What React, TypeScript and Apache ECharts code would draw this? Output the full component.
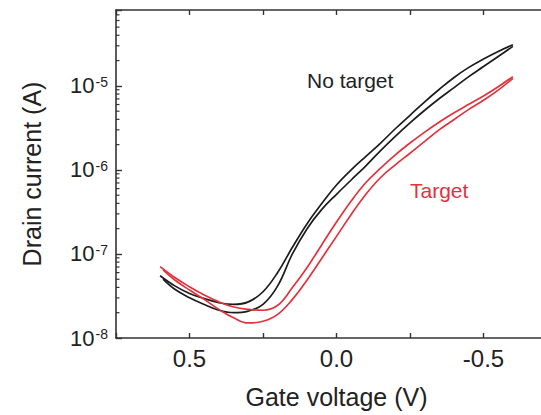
import React, { useEffect, useRef } from "react";
import * as echarts from "echarts";

// Gate voltage (V) sample positions of each sweep branch
const sweepDownV = [
  0.6, 0.55, 0.5, 0.45, 0.4, 0.35, 0.3, 0.25, 0.2, 0.15, 0.1, 0.05, 0,
  -0.05, -0.1, -0.15, -0.2, -0.25, -0.3, -0.35, -0.4, -0.45, -0.5, -0.55, -0.6,
];
const sweepUpV = [
  -0.6, -0.55, -0.5, -0.45, -0.4, -0.35, -0.3, -0.25, -0.2, -0.15, -0.1, -0.05, 0,
  0.05, 0.1, 0.15, 0.2, 0.25, 0.3, 0.35, 0.4, 0.45, 0.5, 0.55, 0.59,
];

// Drain current (A)
const noTargetDownI = [
  5.5e-8, 4.17e-8, 3.39e-8, 2.95e-8, 2.63e-8, 2.51e-8, 2.69e-8, 3.55e-8, 6.03e-8,
  1.2e-7, 2.29e-7, 3.98e-7, 6.61e-7, 1.0e-6, 1.45e-6, 2.09e-6, 3.09e-6, 4.47e-6,
  6.46e-6, 9.12e-6, 1.26e-5, 1.66e-5, 2.09e-5, 2.57e-5, 3.09e-5,
];
const noTargetUpI = [
  2.95e-5, 2.24e-5, 1.7e-5, 1.29e-5, 9.55e-6, 7.08e-6, 5.13e-6, 3.63e-6, 2.51e-6,
  1.7e-6, 1.12e-6, 7.59e-7, 5.13e-7, 3.39e-7, 2.0e-7, 1.0e-7, 4.17e-8, 2.51e-8,
  2.09e-8, 2.0e-8, 2.14e-8, 2.51e-8, 3.02e-8, 3.8e-8, 5.01e-8,
];
const targetDownI = [
  7.08e-8, 5.25e-8, 4.07e-8, 3.24e-8, 2.69e-8, 2.34e-8, 2.19e-8, 2.14e-8, 2.45e-8,
  3.98e-8, 6.92e-8, 1.29e-7, 2.4e-7, 4.27e-7, 7.08e-7, 1.05e-6, 1.51e-6, 2.09e-6,
  2.82e-6, 3.72e-6, 4.79e-6, 6.03e-6, 7.59e-6, 9.77e-6, 1.29e-5,
];
const targetUpI = [
  1.23e-5, 8.91e-6, 6.76e-6, 5.25e-6, 3.98e-6, 3.02e-6, 2.19e-6, 1.58e-6, 1.15e-6,
  8.13e-7, 5.13e-7, 2.95e-7, 1.62e-7, 8.91e-8, 4.9e-8, 2.88e-8, 1.91e-8, 1.58e-8,
  1.51e-8, 1.74e-8, 2.19e-8, 2.88e-8, 3.72e-8, 4.9e-8, 6.46e-8,
];

const xMin = -0.75;
const xMax = 0.75;
const xInterval = 0.25;
const yMin = 1e-8;
const yMax = 8e-5;
const decades = [-8, -7, -6, -5];
const minorMultipliers = [2, 3, 4, 5, 6, 7, 8, 9];

const FONT = "Liberation Sans, Arial, Helvetica, sans-serif";
const AXIS_COLOR = "#333";
const TEXT_COLOR = "#222";
const BLACK = "#1c1c1c";
const RED = "#e3323c";

const zip = (xs: number[], ys: number[]) => xs.map((x, i) => [x, ys[i]]);

export default function App() {
  const ref = useRef<HTMLDivElement>(null);
  useEffect(() => {
    if (!ref.current) return;
    const chart = echarts.init(ref.current, undefined, { renderer: "svg" });

    const minorTicks: [number, number][] = [];
    decades.forEach((d) =>
      minorMultipliers.forEach((m) => {
        const v = m * Math.pow(10, d);
        if (v < yMax) minorTicks.push([xMax, v]);
      })
    );

    const xLabel = (v: number) => {
      const r = Math.round(v * 2);
      if (Math.abs(v * 2 - r) > 1e-6) return "";
      return v.toFixed(1);
    };
    const yLabel = (v: number) => {
      const e = Math.log10(v);
      if (Math.abs(e - Math.round(e)) > 1e-6) return "";
      return `{a|10}{b|${Math.round(e)}}`;
    };

    const lineSeries = (name: string, data: number[][], color: string) => ({
      type: "line",
      name,
      data,
      showSymbol: false,
      symbol: "none",
      smooth: 0.4,
      lineStyle: { color, width: 1.7 },
      z: 3,
    });

    chart.setOption({
      animation: false,
      backgroundColor: "#fff",
      textStyle: { fontFamily: FONT },
      grid: { left: 116, top: 10, width: 443, height: 328 },
      xAxis: [
        {
          type: "value",
          min: xMin,
          max: xMax,
          interval: xInterval,
          inverse: true,
          position: "bottom",
          name: "Gate voltage (V)",
          nameLocation: "middle",
          nameGap: 46,
          nameTextStyle: { fontSize: 25, color: TEXT_COLOR, fontFamily: FONT },
          axisLine: { show: true, onZero: false, lineStyle: { color: AXIS_COLOR, width: 1.6 } },
          axisTick: { show: true, inside: true, length: 5, lineStyle: { color: AXIS_COLOR, width: 1.4 } },
          axisLabel: { formatter: xLabel, fontSize: 24, color: TEXT_COLOR, margin: 8, fontFamily: FONT },
          splitLine: { show: false },
        },
        {
          type: "value",
          min: xMin,
          max: xMax,
          interval: xInterval,
          inverse: true,
          position: "top",
          axisLine: { show: true, onZero: false, lineStyle: { color: AXIS_COLOR, width: 1.6 } },
          axisTick: { show: true, inside: true, length: 5, lineStyle: { color: AXIS_COLOR, width: 1.4 } },
          axisLabel: { show: false },
          splitLine: { show: false },
        },
      ],
      yAxis: [
        {
          type: "log",
          logBase: 10,
          min: yMin,
          max: yMax,
          position: "left",
          name: "Drain current (A)",
          nameLocation: "middle",
          nameGap: 72,
          nameTextStyle: { fontSize: 25, color: TEXT_COLOR, fontFamily: FONT },
          axisLine: { show: true, onZero: false, lineStyle: { color: AXIS_COLOR, width: 1.6 } },
          axisTick: { show: true, inside: true, length: 6, lineStyle: { color: AXIS_COLOR, width: 1.4 } },
          axisLabel: {
            formatter: yLabel,
            margin: 8,
            color: TEXT_COLOR,
            rich: {
              a: { fontSize: 22, fontFamily: FONT, color: TEXT_COLOR, verticalAlign: "bottom" },
              b: { fontSize: 14, fontFamily: FONT, color: TEXT_COLOR, verticalAlign: "top", padding: [0, 0, 0, 1] },
            },
          },
          splitLine: { show: false },
        },
        {
          type: "log",
          logBase: 10,
          min: yMin,
          max: yMax,
          position: "right",
          axisLine: { show: true, onZero: false, lineStyle: { color: AXIS_COLOR, width: 1.6 } },
          axisTick: { show: false },
          axisLabel: { show: false },
          splitLine: { show: false },
        },
      ],
      series: [
        {
          type: "custom",
          xAxisIndex: 0,
          yAxisIndex: 0,
          data: minorTicks,
          silent: true,
          z: 4,
          renderItem: (_params: any, api: any) => {
            const p = api.coord([api.value(0), api.value(1)]);
            return {
              type: "line",
              shape: { x1: p[0], y1: p[1], x2: p[0] + 3.5, y2: p[1] },
              style: { stroke: AXIS_COLOR, lineWidth: 1.2 },
            };
          },
        },
        lineSeries("No target (down)", zip(sweepDownV, noTargetDownI), BLACK),
        lineSeries("No target (up)", zip(sweepUpV, noTargetUpI), BLACK),
        lineSeries("Target (down)", zip(sweepDownV, targetDownI), RED),
        lineSeries("Target (up)", zip(sweepUpV, targetUpI), RED),
      ],
      graphic: [
        {
          type: "text",
          left: 307,
          top: 70,
          style: { text: "No target", fill: TEXT_COLOR, font: `21px ${FONT}` },
        },
        {
          type: "text",
          left: 410,
          top: 180,
          style: { text: "Target", fill: RED, font: `21px ${FONT}` },
        },
      ],
    });
    return () => chart.dispose();
  }, []);

  return (
    <div
      ref={ref}
      style={{ position: "fixed", left: 0, top: 0, width: 560, height: 415 }}
    />
  );
}
